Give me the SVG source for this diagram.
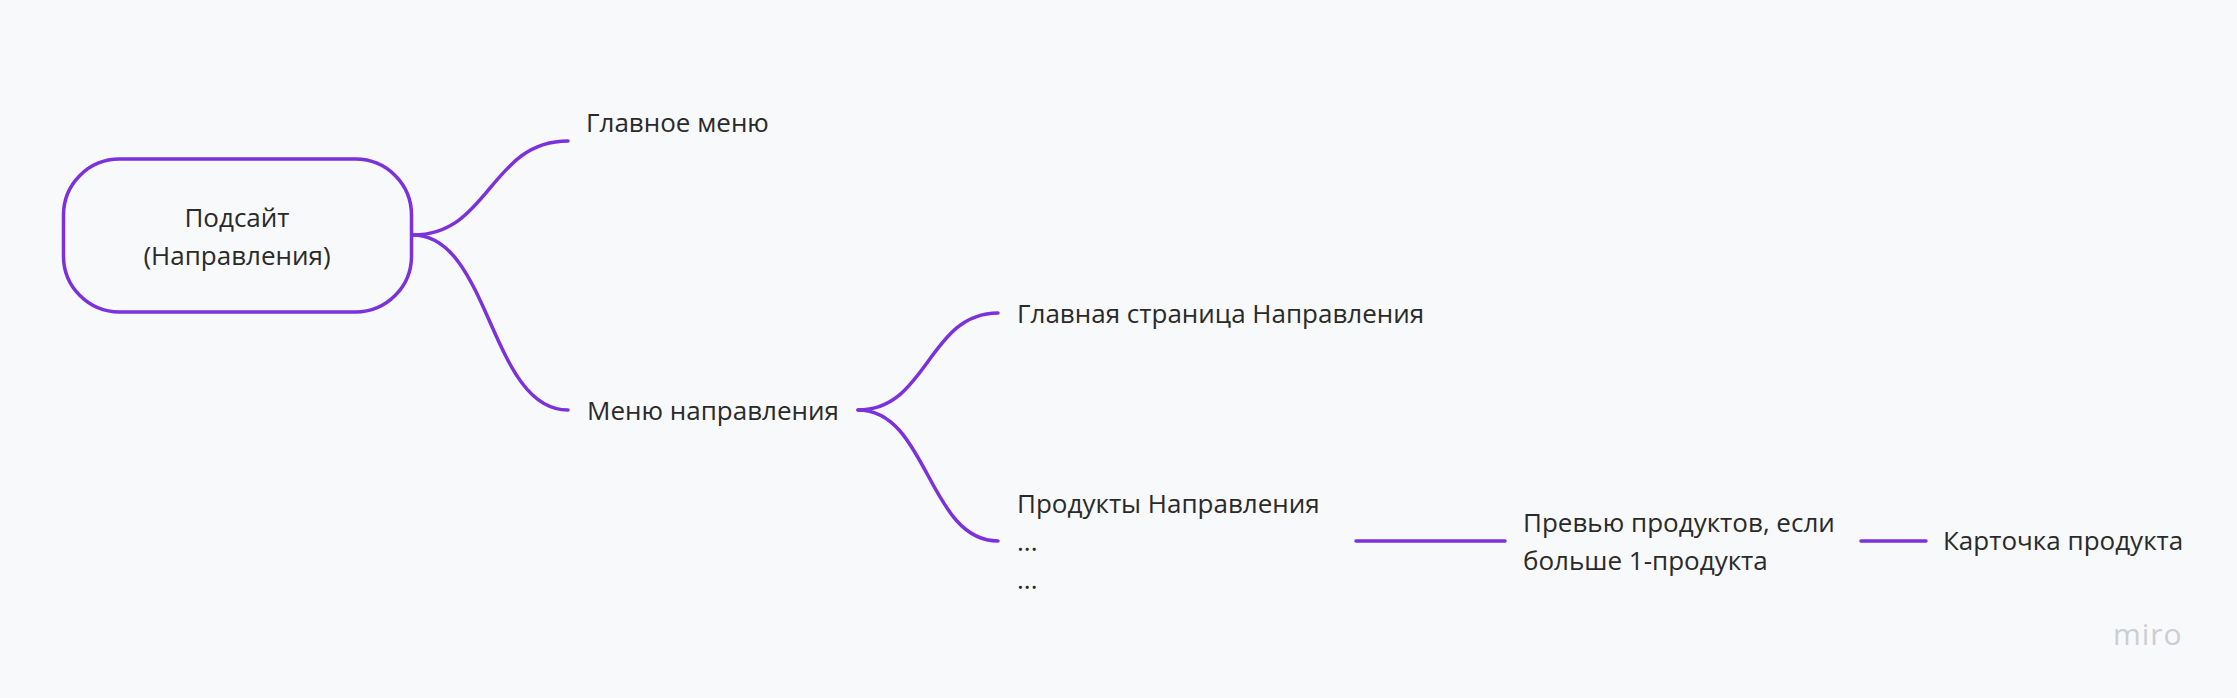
<svg xmlns="http://www.w3.org/2000/svg" width="2237" height="698" viewBox="0 0 2237 698">
<style>
.t{font-family:"Open Sans","Noto Sans","Liberation Sans",sans-serif;font-size:26px;fill:#2a2a2a}
.c{fill:none;stroke:#7b31dc;stroke-width:3.5;stroke-linecap:round}
.logo{font-family:"Open Sans","Noto Sans","Liberation Sans",sans-serif;font-size:30px;fill:#cdcdd4;letter-spacing:1px}
</style>
<rect width="2237" height="698" fill="#f8f9fb"/>
<g id="connectors">
<path class="c" d="M413,235 C490,235 490,141 568,141"/>
<path class="c" d="M413,235 C490,235 490,410 568,410"/>
<path class="c" d="M858,410 C928,410 928,313 998,313"/>
<path class="c" d="M858,410 C928,410 928,541 998,541"/>
<path class="c" d="M1356,541 L1505,541"/>
<path class="c" d="M1861,541 L1926,541"/>
</g>
<g id="root">
<rect x="63.5" y="159" width="348" height="153" rx="56" fill="none" stroke="#7b31dc" stroke-width="3.5"/>
<text class="t" x="237" y="227" text-anchor="middle">Подсайт</text>
<text class="t" x="237" y="265" text-anchor="middle">(Направления)</text>
</g>
<g id="main-menu"><text class="t" x="586" y="132">Главное меню</text></g>
<g id="dir-menu"><text class="t" x="587" y="420">Меню направления</text></g>
<g id="dir-home"><text class="t" x="1017" y="323">Главная страница Направления</text></g>
<g id="dir-products">
<text class="t" x="1017" y="513">Продукты Направления</text>
<text class="t" x="1017" y="551">...</text>
<text class="t" x="1017" y="589">...</text>
</g>
<g id="preview">
<text class="t" x="1523" y="532">Превью продуктов, если</text>
<text class="t" x="1523" y="570">больше 1-продукта</text>
</g>
<g id="card"><text class="t" x="1943" y="550">Карточка продукта</text></g>
<text class="logo" x="2113" y="645">miro</text>
</svg>
